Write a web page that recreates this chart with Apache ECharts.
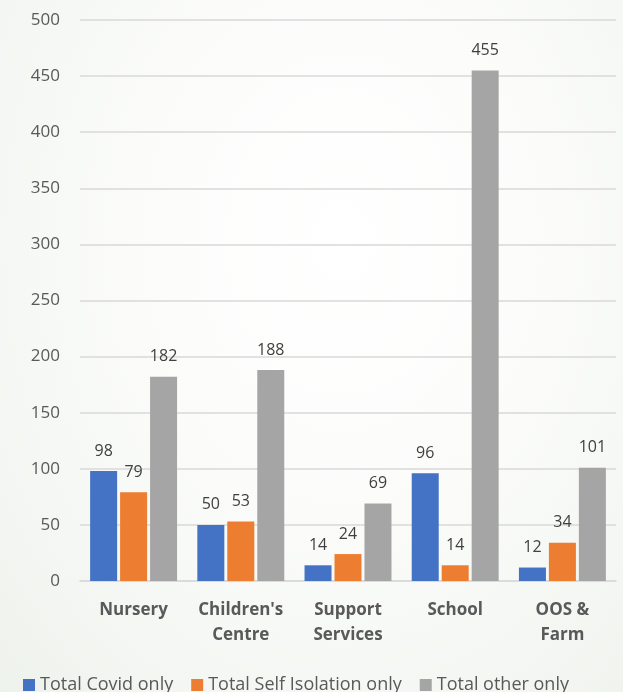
<!DOCTYPE html>
<html>
<head>
<meta charset="utf-8">
<script src="https://cdn.jsdelivr.net/npm/echarts@6/dist/echarts.min.js"></script>
<style>
html, body {
  margin: 0;
  padding: 0;
  width: 623px;
  height: 692px;
  overflow: hidden;
  background: radial-gradient(ellipse at 55% 35%, #ffffff 0%, #fbfcfa 45%, #eef2ec 100%);
}
#chart {
  width: 623px;
  height: 692px;
}
</style>
</head>
<body>
<div id="chart"></div>
<script>
// categories and values
const categories = ["Nursery", "Children's\nCentre", "Support\nServices", "School", "OOS &\nFarm"];
const covidOnly = [98, 50, 14, 96, 12];
const selfIsolationOnly = [79, 53, 24, 14, 34];
const otherOnly = [182, 188, 69, 455, 101];
const seriesNames = ["Total Covid only", "Total Self Isolation only", "Total other only"];
const colors = ["#4472C4", "#ED7D31", "#A5A5A5"];

const chart = echarts.init(document.getElementById("chart"));

function makeSeries(name, data, color) {
  return {
    name: name,
    type: "bar",
    data: data,
    barWidth: 27,
    barGap: "11%",
    itemStyle: { color: color },
    label: {
      show: true,
      position: "top",
      distance: 12,
      color: "#404040",
      fontSize: 16,
      fontFamily: "Open Sans"
    }
  };
}

const option = {
  backgroundColor: "transparent",
  textStyle: { fontFamily: "Open Sans" },
  grid: {
    left: 80,
    right: 7,
    top: 20,
    bottom: 111
  },
  legend: {
    data: seriesNames,
    top: 671,
    left: 18,
    itemWidth: 12,
    itemHeight: 12,
    itemGap: 18,
    icon: "rect",
    textStyle: { color: "#595959", fontSize: 18, fontFamily: "Open Sans" }
  },
  xAxis: {
    type: "category",
    data: categories,
    axisLine: { lineStyle: { color: "#d9d9d9", width: 1.5 } },
    axisTick: { show: false },
    axisLabel: {
      interval: 0,
      color: "#595959",
      fontSize: 17,
      fontWeight: "bold",
      lineHeight: 25,
      margin: 17,
      fontFamily: "Open Sans"
    }
  },
  yAxis: {
    type: "value",
    min: 0,
    max: 500,
    interval: 50,
    axisLine: { show: false },
    axisTick: { show: false },
    axisLabel: { color: "#595959", fontSize: 17, margin: 20, fontFamily: "Open Sans" },
    splitLine: { lineStyle: { color: "#d9d9d9", width: 1.5 } }
  },
  series: [
    makeSeries(seriesNames[0], covidOnly, colors[0]),
    makeSeries(seriesNames[1], selfIsolationOnly, colors[1]),
    makeSeries(seriesNames[2], otherOnly, colors[2])
  ]
};

chart.setOption(option);
</script>
</body>
</html>
